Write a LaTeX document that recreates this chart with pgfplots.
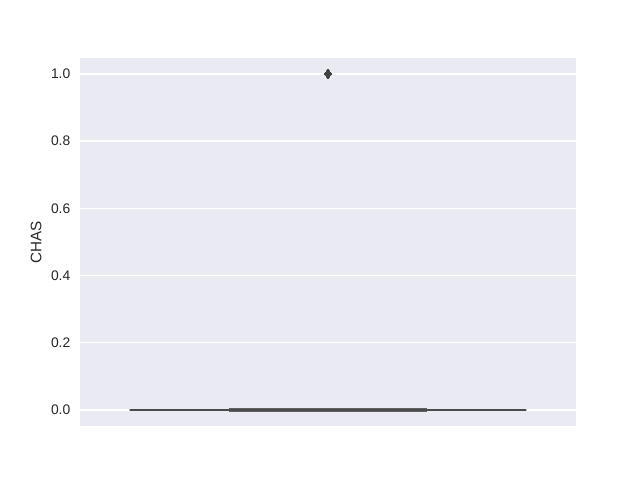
\documentclass[border=0pt]{standalone}
\usepackage{fontspec}
\setmainfont{Liberation Sans}
\usepackage{pgfplots}
\pgfplotsset{compat=1.18}
\usepgfplotslibrary{statistics}
\definecolor{sbbg}{HTML}{EAEAF2}
\definecolor{sbtext}{HTML}{262626}
\definecolor{boxline}{HTML}{4A4A4A}
\definecolor{capline}{HTML}{606060}
\begin{document}
\begin{tikzpicture}
  \begin{axis}[
    name=ax,
    scale only axis,
    width=357.12bp, height=264.96bp,
    xmin=-0.5, xmax=0.5,
    ymin=-0.0476, ymax=1.0476,
    axis background/.style={fill=sbbg},
    axis line style={draw=none},
    xtick=\empty,
    ytick={0,0.2,...,1.0},
    yticklabel style={/pgf/number format/fixed,/pgf/number format/fixed zerofill,
      /pgf/number format/precision=1, font=\fontsize{10}{12}\selectfont,
      text=sbtext, xshift=-3.5bp},
    /pgf/number format/assume math mode=true,
    major tick length=0pt,
    ymajorgrids,
    grid style={white, line width=1bp},
    ylabel={CHAS},
    ylabel style={font=\fontsize{11}{13}\selectfont, text=sbtext},
    boxplot/draw direction=y,
  ]
    \addplot+[
      boxplot prepared={
        draw position=0,
        lower whisker=0, lower quartile=0, median=0,
        upper quartile=0, upper whisker=0,
        box extend=0.8, whisker extend=0.4,
        every box/.style={draw=boxline, line width=1.8bp},
        every whisker/.style={draw=capline, line width=2.2bp},
        every median/.style={draw=boxline, line width=1.8bp},
      },
      solid,
      mark=diamond*,
      mark size=3bp,
      mark options={fill=boxline!90!black, draw=boxline!90!black},
    ] table[row sep=\\, y index=0] {
      1\\1\\1\\1\\1\\1\\1\\1\\1\\1\\1\\1\\1\\1\\1\\1\\1\\1\\1\\1\\
      1\\1\\1\\1\\1\\1\\1\\1\\1\\1\\1\\1\\1\\1\\1\\
    };
  \end{axis}
  \pgfresetboundingbox
  \path[use as bounding box]
    ([xshift=-57.6bp, yshift=-38.88bp]ax.south west)
    rectangle ([xshift=46.08bp, yshift=41.76bp]ax.north east);
\end{tikzpicture}
\end{document}
